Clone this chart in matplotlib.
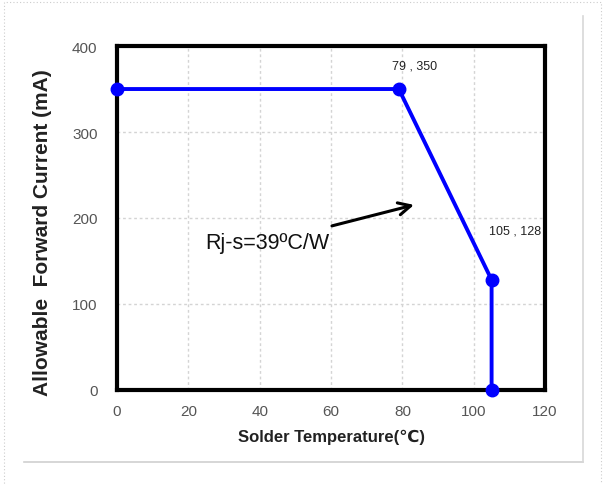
import matplotlib.pyplot as plt
from matplotlib.patches import Rectangle
from matplotlib.lines import Line2D

# derating curve: solder temperature (C) vs allowable forward current (mA)
temp_c = [0, 79, 105, 105]
current_ma = [350, 350, 128, 0]
x_ticks = [0, 20, 40, 60, 80, 100, 120]
y_ticks = [0, 100, 200, 300, 400]
labelled_pts = [1, 2]

plt.rcParams['font.family'] = ['Liberation Sans', 'DejaVu Sans']

fig = plt.figure(figsize=(6.03, 4.85), dpi=100)
ax = fig.add_axes([0.194, 0.194, 0.710, 0.709])

# light frame around the plot area and dotted page edge
fig.add_artist(Line2D([0.040, 0.967], [0.045, 0.045], transform=fig.transFigure,
                      color='#d0d0d0', lw=1.2))
fig.add_artist(Line2D([0.967, 0.967], [0.045, 0.965], transform=fig.transFigure,
                      color='#d8d8d8', lw=1.2))
fig.add_artist(Rectangle((0.006, -0.01), 0.99, 1.003, transform=fig.transFigure,
                         fill=False, ec='#cccccc', lw=0.8, ls=(0, (1, 2))))

ax.plot(temp_c, current_ma, color='#0000ff', lw=2.8, marker='o', ms=9,
        clip_on=False, zorder=5)

ax.set_xlim(0, 120)
ax.set_ylim(0, 400)
ax.set_xticks(x_ticks)
ax.set_yticks(y_ticks)
ax.tick_params(length=0, labelsize=11, labelcolor='#555555')
ax.tick_params(axis='x', pad=10)
ax.tick_params(axis='y', pad=14)
for s in ax.spines.values():
    s.set_linewidth(3)
    s.set_color('black')
ax.grid(True, color='#d4d4d4', lw=1, ls=(0, (2, 2)))
ax.set_axisbelow(True)

ax.set_xlabel('Solder Temperature(\u2103)', fontsize=12, fontweight='bold',
              color='#222222', labelpad=8)
ax.set_ylabel('Allowable  Forward Current (mA)', fontsize=15, fontweight='bold',
              color='#222222')
ax.yaxis.set_label_coords(-0.152, 0.46)

# point labels
offsets = {1: (4.5, 27), 2: (6.6, 57)}
for i in labelled_pts:
    dx, dy = offsets[i]
    ax.text(temp_c[i] + dx, current_ma[i] + dy, f'{temp_c[i]} , {current_ma[i]}',
            fontsize=9, ha='center', va='center', color='#222222')

# thermal resistance note with arrow
ax.text(59.5, 172, 'Rj-s=39\u00baC/W', fontsize=15.5, ha='right', va='center',
        color='#111111')
ax.annotate('', xy=(84, 216), xytext=(59.5, 190),
            arrowprops=dict(arrowstyle='->', color='black', lw=2.2,
                            mutation_scale=22))

fig.savefig('out.png', dpi=100)
